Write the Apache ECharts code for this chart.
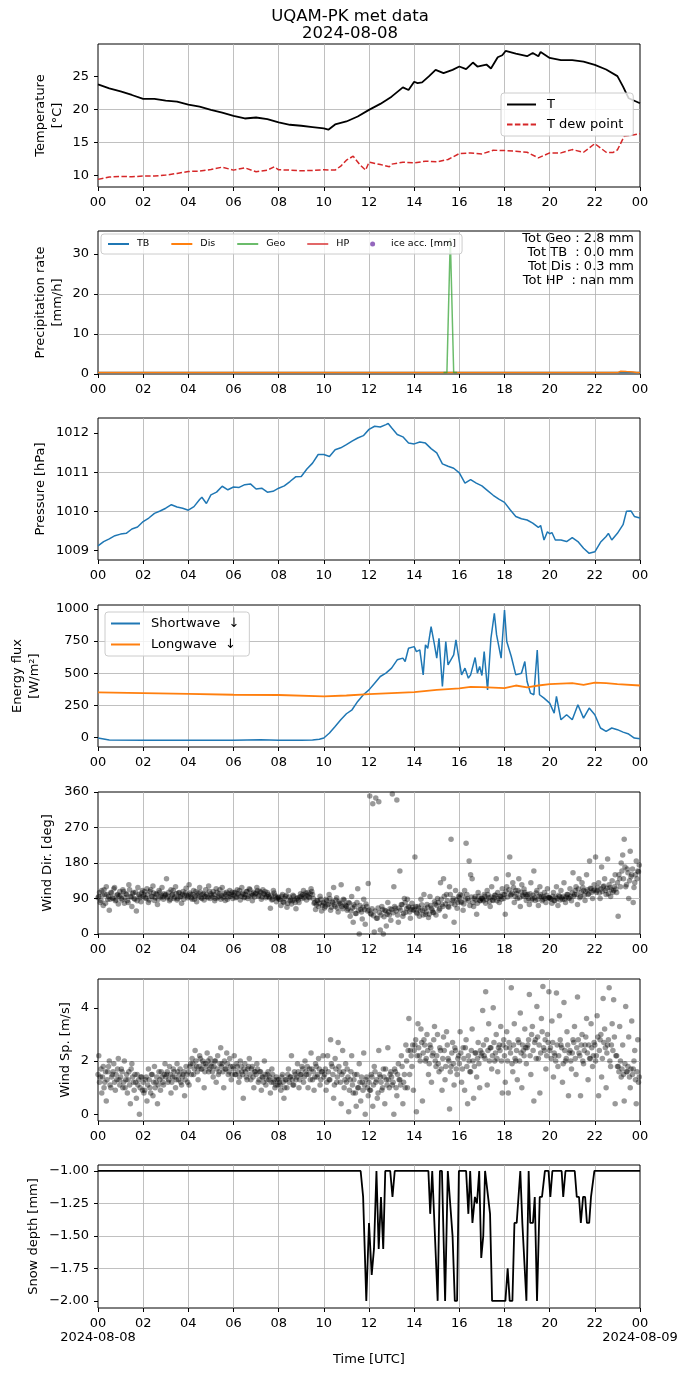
<!DOCTYPE html>
<html>
<head>
<meta charset="utf-8">
<script src="https://cdn.jsdelivr.net/npm/echarts@6/dist/echarts.min.js"></script>
<style>
html, body { margin: 0; padding: 0; background: #fff; }
#main { width: 690px; height: 1377px; }
</style>
</head>
<body>
<div id="main"></div>
<script>
// ---- temperature (hours UTC, degC)
var tHrs = [0,0.5,1,1.5,2,2.5,3,3.5,4,4.5,5,5.5,6,6.5,7,7.5,8,8.5,9,9.5,10,10.2,10.5,11,11.5,12,12.5,13,13.5,13.75,14,14.15,14.35,14.65,14.95,15.3,15.7,16.0,16.3,16.6,16.8,17.2,17.4,17.7,17.9,18.05,18.5,19,19.25,19.5,19.6,20,20.5,21,21.5,22,22.5,23,23.25,23.5,24];
var tVals = [23.8,23.2,22.75,22.2,21.6,21.6,21.35,21.2,20.75,20.45,19.95,19.55,19.05,18.65,18.8,18.55,18.05,17.7,17.55,17.35,17.15,16.95,17.75,18.2,18.95,19.95,20.85,21.95,23.35,22.95,24.2,24.0,24.1,25.0,26.0,25.5,26.0,26.5,26.1,27.1,26.5,26.8,26.2,27.9,28.2,28.85,28.45,28.05,28.55,28.05,28.7,27.8,27.45,27.45,27.25,26.75,26.05,25.05,23.45,21.7,20.95];
var tdHrs = [0,0.5,1,1.5,2,2.5,3,3.5,4,4.5,5,5.5,6,6.5,7,7.5,7.8,8,8.5,9,9.5,10,10.5,10.75,11,11.3,11.6,11.85,12,12.5,12.9,13,13.5,14,14.5,15,15.5,16,16.5,17,17.5,18,18.5,19,19.5,20,20.5,21,21.5,22,22.5,22.8,23,23.3,23.6,24];
var tdVals = [9.45,9.8,9.9,9.85,9.95,9.95,10.1,10.35,10.65,10.7,10.95,11.3,10.85,11.2,10.6,10.85,11.35,10.9,10.85,10.75,10.8,10.9,10.85,11.45,12.35,12.95,11.65,10.85,12.05,11.7,11.35,11.75,12.05,11.95,12.2,12.1,12.45,13.35,13.45,13.3,13.85,13.8,13.7,13.55,12.7,13.45,13.45,13.95,13.55,14.85,13.55,13.5,13.9,15.95,16.1,16.35];
var tempTicks = [10,15,20,25];

// ---- precipitation rate (mm/h)
var tbHrs = [0,24];
var tbVals = [0.35,0.35];
var disHrs = [0,23.0,23.15,23.4,23.7,23.85,24];
var disVals = [0.35,0.35,0.7,0.6,0.5,0.35,0.35];
var geoHrs = [15.3,15.45,15.6,15.75,15.9];
var geoVals = [0.35,0.35,34,0.35,0.35];
var precipTicks = [0,10,20,30];
var precipTotals = ['Tot Geo : 2.8 mm','Tot TB  : 0.0 mm','Tot Dis : 0.3 mm','Tot HP  : nan mm'];

// ---- pressure (hPa)
var pHrs = [0,0.25,0.5,0.75,1,1.25,1.5,1.75,2,2.25,2.5,2.75,3,3.25,3.5,3.75,4,4.25,4.5,4.6,4.8,5,5.25,5.5,5.75,6,6.25,6.5,6.75,7,7.25,7.5,7.75,8,8.25,8.5,8.75,9,9.25,9.5,9.75,10,10.25,10.5,10.75,11,11.25,11.5,11.75,12,12.25,12.5,12.75,12.85,13,13.25,13.5,13.75,14,14.25,14.5,14.75,15,15.25,15.5,15.75,16,16.25,16.5,16.75,17,17.25,17.5,17.75,18,18.25,18.5,18.75,19,19.25,19.5,19.6,19.75,19.9,20,20.1,20.25,20.5,20.75,21,21.25,21.5,21.75,22,22.25,22.5,22.6,22.75,23,23.25,23.4,23.6,23.75,24];
var pVals = [1009.12,1009.23,1009.30,1009.38,1009.42,1009.44,1009.55,1009.60,1009.74,1009.83,1009.95,1010.01,1010.08,1010.17,1010.11,1010.08,1010.03,1010.12,1010.30,1010.36,1010.20,1010.42,1010.49,1010.64,1010.55,1010.62,1010.61,1010.68,1010.70,1010.57,1010.59,1010.49,1010.51,1010.59,1010.65,1010.76,1010.88,1010.89,1011.08,1011.23,1011.45,1011.45,1011.40,1011.57,1011.62,1011.70,1011.79,1011.87,1011.93,1012.09,1012.17,1012.15,1012.21,1012.24,1012.13,1011.96,1011.90,1011.74,1011.72,1011.77,1011.74,1011.60,1011.49,1011.21,1011.15,1011.10,1010.98,1010.72,1010.81,1010.72,1010.65,1010.53,1010.41,1010.31,1010.23,1010.04,1009.87,1009.81,1009.78,1009.70,1009.59,1009.64,1009.27,1009.48,1009.43,1009.46,1009.27,1009.27,1009.23,1009.33,1009.23,1009.06,1008.93,1008.97,1009.21,1009.36,1009.44,1009.27,1009.44,1009.66,1010.00,1010.01,1009.87,1009.83];
var pTicks = [1009,1010,1011,1012];

// ---- energy flux (W/m2)
var swHrs = [0,0.5,2,4,6,7.2,8,9,9.5,9.8,10,10.25,10.5,10.75,11,11.25,11.5,11.75,12,12.25,12.5,12.75,13,13.25,13.5,13.6,13.75,14,14.1,14.25,14.4,14.5,14.6,14.75,14.9,15.0,15.1,15.25,15.4,15.5,15.75,15.85,16.0,16.1,16.25,16.4,16.5,16.7,16.8,16.9,17.0,17.1,17.25,17.4,17.55,17.65,17.85,18.0,18.1,18.3,18.5,18.75,18.9,19.0,19.15,19.3,19.45,19.55,19.75,20.0,20.2,20.3,20.5,20.75,21.0,21.25,21.5,21.75,22.0,22.25,22.5,22.75,23.0,23.25,23.5,23.75,24];
var swVals = [-5,-20,-22,-22,-22,-19,-22,-22,-21,-15,-5,34,85,137,184,215,280,332,370,422,474,500,539,604,617,591,694,707,668,681,487,720,694,862,720,617,772,396,746,565,642,759,591,487,539,461,487,622,500,552,482,668,370,772,966,798,617,992,746,630,487,500,591,435,345,332,681,332,306,267,189,319,137,176,137,254,150,228,176,73,47,73,60,41,26,-5,-10];
var lwHrs = [0,2,4,6,8,10,11,12,13,14,15,16,16.5,17,18,18.5,19,19.5,20,21,21.5,22,22.5,23,24];
var lwVals = [350,345,339,332,330,319,326,337,345,352,370,381,394,391,383,404,389,404,415,422,409,427,422,415,404];
var fluxTicks = [0,250,500,750,1000];

// ---- wind direction (deg): one row per hour, two interleaved 4-min samplings
var windDirRows = [
  [95,80,110,72,100,120,88,60,105,92,115,84,98,76,108],
  [90,112,78,102,85,125,95,70,105,88,58,118,96,82,110],
  [100,92,115,80,108,96,122,85,102,75,110,94,118,88,98],
  [140,96,84,112,100,90,120,86,104,94,78,108,98,116,92],
  [125,100,88,110,96,82,104,118,92,100,86,112,95,122,90],
  [98,108,84,115,92,102,88,118,96,85,106,94,110,100,90],
  [104,92,112,98,86,118,100,94,108,90,115,97,84,106,102],
  [118,96,108,88,112,100,92,105,95,65,86,110,98,82,94],
  [88,72,100,80,95,68,110,84,76,98,86,64,92,80,102],
  [90,110,98,86,105,92,115,100,78,62,85,70,96,58,80],
  [66,88,74,100,60,82,118,70,92,56,78,125,64,86,72],
  [60,80,45,95,30,70,52,115,0,62,38,88,25,70,128],
  [350,50,330,5,345,40,335,10,70,0,60,20,80,48,35],
  [355,120,65,340,30,160,75,45,90,55,88,68,40,78,60],
  [195,55,70,45,88,60,100,50,75,42,95,65,55,82,48],
  [90,60,130,75,140,45,100,70,120,240,85,30,110,65,95],
  [100,80,60,110,230,90,185,150,140,70,95,50,105,85,90],
  [88,100,78,110,92,70,120,85,98,140,105,80,95,115,90],
  [50,120,150,195,100,130,80,110,90,140,70,125,95,105,85],
  [100,75,130,90,160,85,110,72,120,95,88,105,80,115,92],
  [90,78,105,85,120,72,95,110,88,130,80,100,92,115,84],
  [155,100,120,75,140,95,130,110,85,150,100,185,115,90,125],
  [195,110,130,90,170,120,140,100,190,125,95,135,110,150,105],
  [45,140,180,200,240,120,165,90,210,150,80,130,185,160,175]
];
var windDirRows2 = [
  [92,105,85,98,112,78,100,95,88,104,90,118,86,100,96],
  [98,86,108,92,100,80,112,94,102,90,106,84,100,92,104],
  [96,108,90,100,86,112,95,104,92,100,88,106,98,94,102],
  [100,92,106,88,98,110,94,102,90,105,96,100,88,104,98],
  [96,104,92,100,88,108,98,94,106,90,102,96,100,92,108],
  [102,94,100,90,106,96,112,98,92,104,100,88,102,96,106],
  [98,106,94,102,110,96,104,92,100,108,96,112,102,98,94],
  [104,110,98,106,94,102,108,96,100,92,98,88,104,94,90],
  [92,86,96,82,90,98,78,94,88,84,96,80,90,86,94],
  [96,100,92,104,98,94,102,108,90,80,74,84,78,88,72],
  [78,70,84,76,90,68,80,74,86,66,82,76,70,88,74],
  [70,64,78,58,66,74,52,80,60,72,56,68,62,76,58],
  [60,52,64,46,58,40,66,54,48,62,44,58,50,56,64],
  [62,54,70,58,48,66,60,74,52,80,64,70,56,62,68],
  [62,70,52,66,58,74,48,64,56,68,50,72,60,54,76],
  [72,80,64,88,70,96,76,84,68,100,78,90,74,86,80],
  [92,82,98,76,88,100,84,72,94,80,90,86,78,96,84],
  [90,84,96,88,100,82,94,86,92,98,84,90,96,88,100],
  [100,108,94,112,98,104,118,96,102,110,92,106,98,114,100],
  [96,90,102,86,98,92,104,88,96,100,84,94,90,98,92],
  [92,88,96,84,94,90,98,86,92,96,88,94,100,90,96],
  [104,96,110,100,114,92,106,118,98,108,112,102,116,106,110],
  [112,106,118,104,114,108,122,110,116,102,118,112,106,120,114],
  [130,150,120,160,140,170,125,155,135,145,165,118,150,140,158]
];
var dirTicks = [0,90,180,270,360];

// ---- wind speed (m/s), same sampling
var windSpRows = [
  [2.2,1.4,0.8,1.8,1.2,0.5,1.6,2.0,1.0,1.5,1.9,0.9,1.3,2.1,1.1],
  [1.7,1.0,2.0,1.3,0.8,1.6,0.4,1.9,1.2,1.5,0.6,1.1,0.0,1.4,0.9],
  [0.8,1.3,0.5,1.7,1.0,1.5,0.7,1.8,1.2,0.4,1.6,0.9,1.4,1.1,1.9],
  [1.5,1.2,1.8,0.8,1.4,1.6,1.0,1.9,1.3,1.7,1.1,1.5,0.7,1.8,1.2],
  [1.1,1.9,2.1,1.5,2.4,1.8,1.3,2.2,1.7,2.0,1.0,1.9,2.3,1.6,2.1],
  [1.8,1.4,2.0,1.2,2.2,1.6,2.5,1.9,1.0,1.7,2.3,1.5,2.1,1.3,1.8],
  [2.2,1.5,1.8,1.2,2.0,1.6,0.6,1.9,1.4,1.7,2.1,1.3,1.8,1.0,1.6],
  [1.9,1.2,1.6,0.9,1.4,2.0,1.1,1.5,1.3,0.8,1.7,1.2,1.0,1.4,1.1],
  [1.2,0.9,1.5,0.6,1.3,1.0,1.7,1.4,2.2,1.1,1.6,1.3,1.9,1.0,1.5],
  [1.8,1.2,2.0,1.5,1.0,1.7,2.3,1.3,0.9,1.9,1.4,2.1,1.1,1.6,2.2],
  [1.5,0.9,2.2,1.3,2.8,1.8,0.6,2.1,1.2,2.7,1.6,0.4,2.4,1.0,1.9],
  [1.7,0.1,1.3,2.2,0.8,1.5,0.3,1.0,1.9,0.5,1.2,2.3,0.0,1.4,0.7],
  [0.9,1.5,0.3,1.8,1.2,0.6,2.4,1.4,0.9,1.7,0.4,1.3,2.5,1.0,1.6],
  [1.1,0.0,1.6,0.7,1.9,1.3,2.2,0.4,1.5,2.6,1.0,3.6,2.4,1.8,0.9],
  [2.6,0.1,3.4,2.2,3.2,0.5,2.8,2.0,3.0,1.5,2.6,1.2,2.3,3.3,1.8],
  [3.0,1.6,2.4,0.9,2.9,1.3,3.1,2.1,0.2,1.8,2.7,1.1,2.4,1.5,2.2],
  [3.1,1.2,2.5,0.9,2.8,0.4,2.0,1.6,3.2,0.6,2.3,1.4,2.7,1.0,2.2],
  [3.9,2.2,4.6,1.1,3.4,2.5,1.7,4.0,2.0,3.0,1.6,2.6,3.3,0.8,2.8],
  [1.2,3.1,0.8,2.5,4.75,1.6,3.4,2.0,1.3,2.7,3.8,1.0,2.4,3.2,1.9],
  [2.6,4.5,1.5,3.3,0.5,2.8,4.05,2.1,0.8,3.6,4.8,2.4,1.7,3.0,4.6],
  [2.5,3.5,1.4,2.2,4.55,1.8,3.7,2.6,1.2,4.2,2.0,3.1,0.7,2.4,1.7],
  [2.8,3.3,1.5,4.4,2.3,0.7,3.0,1.9,2.6,3.6,1.3,2.1,3.4,1.8,2.7],
  [2.0,3.7,0.7,2.8,1.4,4.35,3.2,1.0,2.6,4.75,1.8,3.4,4.3,0.4,2.2],
  [1.8,3.3,1.4,2.6,0.5,4.05,1.6,2.9,1.0,3.5,1.7,2.4,0.4,2.8,1.4]
];
var windSpRows2 = [
  [1.5,1.2,1.7,1.4,1.0,1.6,1.3,1.8,1.1,1.4,1.6,1.2,1.5,1.7,1.3],
  [1.4,1.6,1.2,1.0,1.5,1.3,1.1,1.7,1.4,0.9,1.2,1.5,1.3,1.0,1.4],
  [1.2,0.9,1.4,1.1,1.3,0.8,1.5,1.2,1.0,1.4,1.1,1.3,1.6,1.2,1.5],
  [1.4,1.6,1.3,1.5,1.2,1.7,1.4,1.3,1.6,1.5,1.2,1.4,1.6,1.3,1.5],
  [1.6,1.8,1.5,1.9,1.7,2.0,1.6,1.8,2.1,1.7,1.9,1.6,1.8,2.0,1.7],
  [1.9,1.6,1.8,2.0,1.7,1.5,1.9,1.8,1.6,2.0,1.7,1.9,1.6,1.8,1.5],
  [1.7,1.5,1.9,1.6,1.4,1.8,1.5,1.7,1.6,1.3,1.8,1.5,1.7,1.4,1.6],
  [1.5,1.7,1.3,1.6,1.4,1.2,1.5,1.3,1.6,1.4,1.2,1.5,1.3,1.1,1.3],
  [1.3,1.1,1.4,1.2,1.0,1.3,1.5,1.2,1.4,1.3,1.1,1.5,1.4,1.6,1.3],
  [1.5,1.7,1.4,1.6,1.8,1.5,1.3,1.7,1.6,1.4,1.8,1.5,1.7,1.3,1.6],
  [1.4,1.7,1.2,1.6,1.3,1.9,1.5,1.1,1.7,1.4,1.8,1.2,1.5,1.6,1.3],
  [1.2,1.4,0.9,1.6,1.1,1.3,0.8,1.5,1.0,1.2,1.4,0.9,1.1,1.3,1.0],
  [1.2,0.9,1.4,1.1,1.6,1.3,0.8,1.5,1.2,1.0,1.4,1.7,1.1,1.3,1.5],
  [1.4,1.2,1.7,1.0,1.5,1.3,1.1,1.8,1.2,1.0,2.0,2.4,1.5,2.2,2.6],
  [2.4,2.8,2.2,2.5,2.0,2.7,2.3,2.6,2.1,2.4,1.9,2.5,2.2,2.8,2.0],
  [2.2,1.9,2.5,1.7,2.1,2.4,1.8,2.6,2.0,1.6,2.3,1.9,2.5,1.7,2.1],
  [1.9,2.3,1.7,2.1,2.5,1.8,2.2,1.6,2.4,2.0,1.8,2.3,2.1,1.9,2.4],
  [2.3,2.6,2.1,2.8,2.4,2.0,2.5,2.2,2.7,2.3,2.1,2.5,2.4,2.0,2.6],
  [2.2,2.5,2.0,2.7,2.3,1.9,2.6,2.1,2.4,2.8,2.0,2.3,2.6,2.2,2.5],
  [2.5,2.8,2.2,3.0,2.4,2.7,2.1,2.9,2.6,2.3,3.1,2.5,2.8,2.2,2.7],
  [2.4,2.1,2.7,2.3,2.0,2.6,2.2,2.8,2.5,1.9,2.4,2.1,2.6,2.3,2.0],
  [2.3,2.7,2.1,2.5,2.8,2.2,2.6,2.0,2.4,2.9,2.3,2.6,2.1,2.5,2.2],
  [2.6,2.2,2.9,2.4,3.0,2.1,2.7,2.5,2.3,2.8,2.0,2.6,2.4,2.9,2.2],
  [1.8,1.6,2.0,1.7,1.5,1.9,1.6,1.8,1.4,1.7,1.5,2.0,1.3,1.6,1.2]
];
var spTicks = [0,2,4];

// ---- snow depth (mm)
var snowHrs = [0,11.63,11.74,11.88,12.0,12.12,12.22,12.33,12.43,12.53,12.63,12.72,12.94,13.04,13.14,14.63,14.71,14.8,15.04,15.14,15.23,15.37,15.49,15.7,15.8,15.9,15.98,16.3,16.4,16.48,16.58,16.69,16.78,16.88,16.97,17.06,17.14,17.22,17.36,17.45,18.04,18.14,18.23,18.35,18.44,18.54,18.7,18.79,18.87,18.97,19.07,19.14,19.26,19.34,19.44,19.56,19.66,19.79,19.95,20.03,20.12,20.53,20.6,20.7,21.11,21.2,21.3,21.38,21.48,21.57,21.65,21.75,21.83,21.9,21.98,24];
var snowVals = [-1,-1,-1.2,-2,-1.4,-1.8,-1.6,-1,-1.6,-1.2,-1.6,-1,-1,-1.2,-1,-1,-1.33,-1,-2,-1,-1,-2,-1,-1.5,-2,-2,-1,-1,-1.33,-1,-1.4,-1.2,-1.25,-1,-1.67,-1.5,-1,-1,-1.33,-2,-2,-1.75,-2,-2,-1.4,-1.4,-1,-1.4,-1.4,-2,-1,-1.4,-1.4,-1.2,-2,-1.2,-1.2,-1,-1,-1.2,-1,-1,-1.2,-1,-1,-1.2,-1.2,-1.4,-1.2,-1.2,-1.4,-1.4,-1.2,-1.2,-1,-1];
var snowTicks = [-2,-1.75,-1.5,-1.25,-1];

// date labels under first and last tick of the bottom panel
var dayLabels = ['2024-08-08', '2024-08-09'];

var FONT = 'DejaVu Sans';

function zip(h, v) {
    return h.map(function (x, i) { return [x, v[i]]; });
}
function hourly(rows, offMin) {
    var out = [];
    rows.forEach(function (r, h) {
        r.forEach(function (v, k) { out.push([h + (k * 4 + offMin) / 60, v]); });
    });
    return out;
}
function hh(v) {
    var n = Math.round(v) % 24;
    return (n < 10 ? '0' : '') + n;
}

var tops = [44, 231, 418, 605, 792, 979, 1165];
var heights = [143, 143, 142, 142, 142, 142, 143];

var yCfg = [
    { min: 8.3, max: 29.9, ticks: tempTicks, name: 'Temperature\n[°C]', gap: 32, dec: 0 },
    { min: 0, max: 35.75, ticks: precipTicks, name: 'Precipitation rate\n[mm/h]', gap: 32, dec: 0 },
    { min: 1008.76, max: 1012.38, ticks: pTicks, name: 'Pressure [hPa]', gap: 49, dec: 0 },
    { min: -75, max: 1031, ticks: fluxTicks, name: 'Energy flux\n[W/m²]', gap: 55, dec: 0 },
    { min: 0, max: 360, ticks: dirTicks, name: 'Wind Dir. [deg]', gap: 42, dec: 0 },
    { min: -0.25, max: 5.08, ticks: spTicks, name: 'Wind Sp. [m/s]', gap: 24, dec: 0 },
    { min: -2.055, max: -0.954, ticks: snowTicks, name: 'Snow depth [mm]', gap: 56, dec: 2 }
];

var grids = [], xAxes = [], yAxes = [];
for (var i = 0; i < 7; i++) {
    grids.push({
        left: 98, width: 542, top: tops[i], height: heights[i],
        show: true, borderColor: '#000', borderWidth: 1, backgroundColor: 'transparent'
    });
    var last = (i === 6);
    xAxes.push({
        type: 'value', gridIndex: i, min: 0, max: 24, interval: 2, position: 'bottom',
        axisLine: { show: false, onZero: false },
        axisTick: { show: true, length: 4, lineStyle: { color: '#000', width: 1 } },
        axisLabel: {
            fontFamily: FONT, fontSize: 13, color: '#000', margin: 9,
            showMinLabel: true, showMaxLabel: true, hideOverlap: false,
            formatter: function (v) { return hh(v); }
        },
        splitLine: { show: true, showMinLine: false, showMaxLine: false, lineStyle: { color: '#b0b0b0', width: 0.8 } },
        name: last ? 'Time [UTC]' : '',
        nameLocation: 'middle', nameGap: 45, nameMoveOverlap: false,
        nameTextStyle: { fontFamily: FONT, fontSize: 13, color: '#000' }
    });
    var c = yCfg[i];
    yAxes.push({
        type: 'value', gridIndex: i, min: c.min, max: c.max,
        axisLine: { show: false },
        axisTick: { show: true, length: 4, customValues: c.ticks, lineStyle: { color: '#000', width: 1 } },
        axisLabel: {
            fontFamily: FONT, fontSize: 13, color: '#000', margin: 9, customValues: c.ticks,
            formatter: (function (d) {
                return function (v) { return Number(v).toFixed(d).replace('-', '\u2212'); };
            })(c.dec)
        },
        splitLine: { show: true, showMinLine: false, showMaxLine: false, lineStyle: { color: '#b0b0b0', width: 0.8 } },
        name: c.name, nameLocation: 'middle', nameRotate: 90, nameGap: c.gap, nameMoveOverlap: false,
        nameTextStyle: { fontFamily: FONT, fontSize: 13, color: '#000', lineHeight: 17 }
    });
}
// second row of labels (dates) on the bottom panel
xAxes.push({
    type: 'value', gridIndex: 6, min: 0, max: 24, interval: 24, position: 'bottom',
    axisLine: { show: false, onZero: false }, axisTick: { show: false }, splitLine: { show: false },
    axisLabel: {
        fontFamily: FONT, fontSize: 13, color: '#000', margin: 23,
        showMinLabel: true, showMaxLabel: true,
        formatter: function (v) { return v === 0 ? dayLabels[0] : dayLabels[1]; }
    }
});

function lineSeries(name, idx, data, color, extra) {
    var s = {
        name: name, type: 'line', xAxisIndex: idx, yAxisIndex: idx, data: data,
        showSymbol: false, symbol: 'none', animation: false,
        lineStyle: { color: color, width: 1.5 }, itemStyle: { color: color }
    };
    if (extra) {
        for (var k in extra) s.lineStyle[k] = extra[k];
    }
    return s;
}

var legendBox = {
    backgroundColor: 'rgba(255,255,255,0.8)', borderColor: '#cccccc', borderWidth: 1, borderRadius: 3,
    selectedMode: false, itemStyle: { opacity: 0 }
};

var option = {
    animation: false,
    backgroundColor: '#fff',
    title: {
        text: 'UQAM-PK met data\n2024-08-08', left: 345, top: 3, textAlign: 'center',
        textStyle: { fontFamily: FONT, fontSize: 16.5, fontWeight: 'normal', color: '#000', lineHeight: 17 }
    },
    grid: grids,
    xAxis: xAxes,
    yAxis: yAxes,
    legend: [
        Object.assign({
            data: ['T', 'T dew point'], orient: 'vertical', left: 501, top: 93,
            itemWidth: 29, itemHeight: 10, itemGap: 7, padding: [5, 10, 5, 5],
            textStyle: { fontFamily: FONT, fontSize: 13, color: '#000', padding: [0, 0, 0, 6] }
        }, legendBox),
        Object.assign({
            data: ['TB', 'Dis', 'Geo', 'HP', { name: 'ice acc. [mm]', icon: 'circle', itemStyle: { opacity: 1 } }],
            orient: 'horizontal', left: 101, top: 234,
            itemWidth: 21, itemHeight: 5, itemGap: 21, padding: [5, 6],
            textStyle: { fontFamily: FONT, fontSize: 9.5, color: '#000', padding: [0, 0, 0, 3] }
        }, legendBox),
        Object.assign({
            data: ['Shortwave  ↓', 'Longwave  ↓'], orient: 'vertical', left: 105, top: 612,
            itemWidth: 29, itemHeight: 10, itemGap: 8, padding: [5, 10, 5, 5],
            textStyle: { fontFamily: FONT, fontSize: 13, color: '#000', padding: [0, 0, 0, 6] }
        }, legendBox)
    ],
    graphic: [{
        type: 'text', right: 56, top: 232,
        style: {
            text: precipTotals.join('\n'), textAlign: 'right',
            font: '13px "DejaVu Sans"', lineHeight: 14, fill: '#000'
        }
    }],
    series: [
        lineSeries('T', 0, zip(tHrs, tVals), '#000000', { width: 1.8 }),
        lineSeries('T dew point', 0, zip(tdHrs, tdVals), '#d62728', { type: [5.5, 2.4] }),
        lineSeries('TB', 1, zip(tbHrs, tbVals), '#1f77b4'),
        lineSeries('Dis', 1, zip(disHrs, disVals), '#ff7f0e'),
        lineSeries('Geo', 1, zip(geoHrs, geoVals), '#2ca02c', { opacity: 0.7 }),
        lineSeries('HP', 1, [], '#d62728', { opacity: 0.7 }),
        {
            name: 'ice acc. [mm]', type: 'scatter', xAxisIndex: 1, yAxisIndex: 1, data: [],
            symbolSize: 5, itemStyle: { color: '#9467bd' }
        },
        lineSeries('Pressure', 2, zip(pHrs, pVals), '#1f77b4'),
        lineSeries('Shortwave  ↓', 3, zip(swHrs, swVals), '#1f77b4'),
        lineSeries('Longwave  ↓', 3, zip(lwHrs, lwVals), '#ff7f0e', { width: 1.8 }),
        {
            name: 'Wind Dir.', type: 'scatter', xAxisIndex: 4, yAxisIndex: 4,
            data: hourly(windDirRows, 2).concat(hourly(windDirRows2, 0)),
            symbolSize: 5.5, itemStyle: { color: 'rgba(0,0,0,0.5)' }
        },
        {
            name: 'Wind Sp.', type: 'scatter', xAxisIndex: 5, yAxisIndex: 5,
            data: hourly(windSpRows, 2).concat(hourly(windSpRows2, 0)),
            symbolSize: 5.5, itemStyle: { color: 'rgba(0,0,0,0.5)' }
        },
        lineSeries('Snow depth', 6, zip(snowHrs, snowVals), '#000000', { width: 1.8 })
    ]
};

var chart = echarts.init(document.getElementById('main'), null, { renderer: 'canvas' });
chart.setOption(option);
</script>
</body>
</html>
